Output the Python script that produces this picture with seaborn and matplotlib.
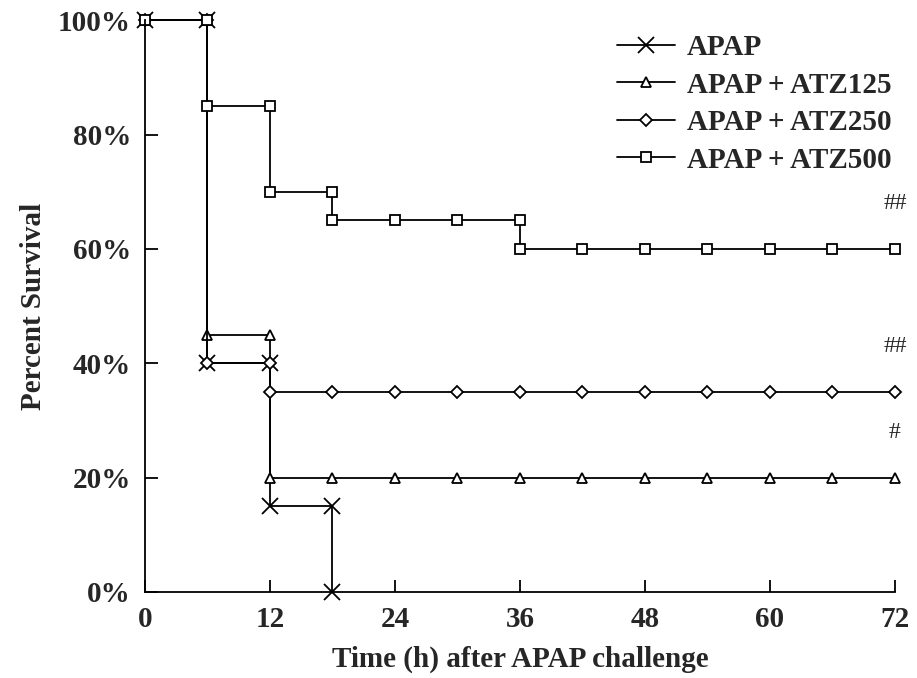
import pandas as pd
import numpy as np
import matplotlib
matplotlib.use("Agg")
import matplotlib.pyplot as plt
import seaborn as sns

# survival data (duplicated x where the curve drops)
apap_t = [0, 6, 6, 12, 12, 18, 18]
apap_s = [100, 100, 40, 40, 15, 15, 0]

atz125_t = [0, 6, 6, 12, 12, 18, 24, 30, 36, 42, 48, 54, 60, 66, 72]
atz125_s = [100, 100, 45, 45, 20, 20, 20, 20, 20, 20, 20, 20, 20, 20, 20]

atz250_t = [0, 6, 6, 12, 12, 18, 24, 30, 36, 42, 48, 54, 60, 66, 72]
atz250_s = [100, 100, 40, 40, 35, 35, 35, 35, 35, 35, 35, 35, 35, 35, 35]

atz500_t = [0, 6, 6, 12, 12, 18, 18, 24, 30, 36, 36, 42, 48, 54, 60, 66, 72]
atz500_s = [100, 100, 85, 85, 70, 70, 65, 65, 65, 65, 60, 60, 60, 60, 60, 60, 60]

groups = ["APAP", "APAP + ATZ125", "APAP + ATZ250", "APAP + ATZ500"]
x_ticks = [0, 12, 24, 36, 48, 60, 72]
y_ticks = [0, 20, 40, 60, 80, 100]
y_labels = ["0%", "20%", "40%", "60%", "80%", "100%"]
sig_marks = {"APAP + ATZ125": "#", "APAP + ATZ250": "##", "APAP + ATZ500": "##"}

frames = []
for name, t, s in zip(groups, [apap_t, atz125_t, atz250_t, atz500_t],
                      [apap_s, atz125_s, atz250_s, atz500_s]):
    frames.append(pd.DataFrame({"time": t, "surv": s, "group": name}))
df = pd.concat(frames, ignore_index=True)

sns.set_style("white")
plt.rcParams["font.family"] = ["Liberation Serif", "DejaVu Serif"]

fig = plt.figure(figsize=(9.17, 6.78), dpi=100)
ax = fig.add_axes([0.158, 0.127, 0.818, 0.843])

markers = {"APAP": "x", "APAP + ATZ125": "^", "APAP + ATZ250": "D", "APAP + ATZ500": "s"}
sizes = {"APAP": 11, "APAP + ATZ125": 7, "APAP + ATZ250": 6, "APAP + ATZ500": 7}

for name in groups:
    sub = df[df["group"] == name]
    sns.lineplot(data=sub, x="time", y="surv", ax=ax, color="black", linewidth=1.3,
                 marker=markers[name], markersize=sizes[name], markerfacecolor="white",
                 markeredgecolor="black", markeredgewidth=1.3, sort=False,
                 estimator=None, label=name, clip_on=False)

# significance marks at the last point
for name, mark in sig_marks.items():
    sub = df[df["group"] == name]
    ax.annotate(mark, (sub["time"].iloc[-1], sub["surv"].iloc[-1]), xytext=(0, 25),
                textcoords="offset points", ha="center", va="bottom", fontsize=17)

ax.set_xlim(0, 72)
ax.set_ylim(0, 100)
ax.set_xticks(x_ticks)
ax.set_yticks(y_ticks)
ax.set_yticklabels(y_labels)
ax.tick_params(direction="in", length=9, width=1.3, labelsize=21, pad=10, color="black",
               bottom=True, left=True)
for lab in ax.get_xticklabels() + ax.get_yticklabels():
    lab.set_fontweight("bold")
sns.despine(ax=ax)
for sp in ["left", "bottom"]:
    ax.spines[sp].set_color("black")
    ax.spines[sp].set_linewidth(1.3)

ax.set_xlabel("Time (h) after APAP challenge", fontsize=21, fontweight="bold", labelpad=9)
ax.set_ylabel("Percent Survival", fontsize=21, fontweight="bold", labelpad=8)

leg = ax.legend(loc="upper right", bbox_to_anchor=(1.03, 1.022), frameon=False,
                prop={"size": 21, "weight": "bold"}, handlelength=2.0, labelspacing=0.36,
                handletextpad=0.4)

fig.savefig("out.png", dpi=100)
